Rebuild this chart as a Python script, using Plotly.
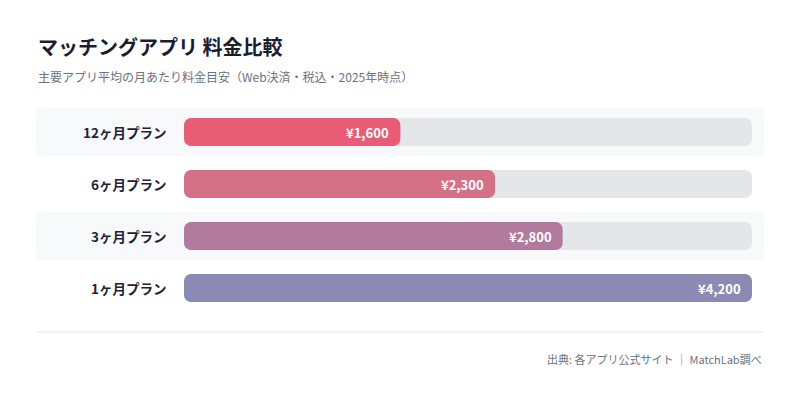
import plotly.graph_objects as go

plans = ["12ヶ月プラン", "6ヶ月プラン", "3ヶ月プラン", "1ヶ月プラン"]
prices = [1600, 2300, 2800, 4200]
colors = ["#e85d75", "#d57187", "#b27a9c", "#8b8ab3"]
price_labels = ["¥1,600", "¥2,300", "¥2,800", "¥4,200"]

title = "マッチングアプリ 料金比較"
subtitle = "主要アプリ平均の月あたり料金目安（Web決済・税込・2025年時点）"
footer = "出典: 各アプリ公式サイト ｜ MatchLab調べ"

FONT = "Noto Sans CJK JP"
W, H = 800, 401
ML, MR, MT, MB = 184, 48, 106, 87
plot_w = W - ML - MR
plot_h = H - MT - MB

xmax = max(prices)
ypos = list(range(len(plans)))

def px_to_paper_x(px):
    return (px - ML) / plot_w

def px_to_paper_y(px):
    return (H - MB - px) / plot_h

fig = go.Figure()

def add_round_bars(values, color):
    # two overlapping halves so both ends get rounded corners
    left_base = [v * 0.6 for v in values]
    right_base = [v * 0.4 for v in values]
    fig.add_trace(go.Bar(
        y=ypos, x=[-b for b in left_base], base=left_base, orientation="h",
        marker=dict(color=color, cornerradius=7, line=dict(width=0)),
        width=0.54, hoverinfo="skip", showlegend=False,
    ))
    fig.add_trace(go.Bar(
        y=ypos, x=[v - b for v, b in zip(values, right_base)], base=right_base,
        orientation="h",
        marker=dict(color=color, cornerradius=7, line=dict(width=0)),
        width=0.54, hoverinfo="skip", showlegend=False,
    ))

add_round_bars([xmax] * len(plans), "#e5e6ea")
add_round_bars(prices, colors)

shapes = []
x0 = px_to_paper_x(36)
x1 = px_to_paper_x(764)
rx = 8 / plot_w
ry = 8 / (plot_h / len(plans))
for i in ypos:
    if i % 2 == 0:
        ya = i - 0.4615
        yb = i + 0.4615
        path = (f"M {x0+rx},{ya} L {x1-rx},{ya} Q {x1},{ya} {x1},{ya+ry} "
                f"L {x1},{yb-ry} Q {x1},{yb} {x1-rx},{yb} L {x0+rx},{yb} "
                f"Q {x0},{yb} {x0},{yb-ry} L {x0},{ya+ry} Q {x0},{ya} {x0+rx},{ya} Z")
        shapes.append(dict(type="path", path=path, xref="paper", yref="y",
                           fillcolor="#f8f9fb", line=dict(width=0), layer="below"))
shapes.append(dict(type="line", xref="paper", yref="paper",
                   x0=x0, x1=x1, y0=px_to_paper_y(332), y1=px_to_paper_y(332),
                   line=dict(color="#e5e7eb", width=1)))

annotations = []
for i, (p, lab, v) in enumerate(zip(plans, price_labels, prices)):
    annotations.append(dict(x=0, y=i, xref="x", yref="y", text=f"<b>{p}</b>",
                            xanchor="right", yanchor="middle", xshift=-16,
                            showarrow=False,
                            font=dict(family=FONT, size=13.5, color="#1f2233")))
    annotations.append(dict(x=v, y=i, xref="x", yref="y", text=f"<b>{lab}</b>",
                            xanchor="right", yanchor="middle", xshift=-9,
                            showarrow=False,
                            font=dict(family=FONT, size=13, color="#ffffff")))
annotations.append(dict(x=x0, y=px_to_paper_y(47), xref="paper", yref="paper",
                        text=f"<b>{title}</b>", xanchor="left", yanchor="middle",
                        showarrow=False,
                        font=dict(family=FONT, size=20, color="#1a1d2e")))
annotations.append(dict(x=x0, y=px_to_paper_y(76), xref="paper", yref="paper",
                        text=subtitle, xanchor="left", yanchor="middle",
                        showarrow=False,
                        font=dict(family=FONT, size=12, color="#6b7280")))
annotations.append(dict(x=x1, y=px_to_paper_y(359), xref="paper", yref="paper",
                        text=footer, xanchor="right", yanchor="middle",
                        showarrow=False,
                        font=dict(family=FONT, size=11, color="#6b7280")))

fig.update_layout(
    width=W, height=H,
    margin=dict(l=ML, r=MR, t=MT, b=MB, pad=0),
    paper_bgcolor="#ffffff", plot_bgcolor="rgba(0,0,0,0)",
    barmode="overlay",
    xaxis=dict(range=[0, xmax], visible=False, fixedrange=True),
    yaxis=dict(range=[len(plans) - 0.5, -0.5], visible=False, fixedrange=True),
    shapes=shapes, annotations=annotations,
    font=dict(family=FONT),
    showlegend=False,
)

fig.write_html("out.html", config={"displayModeBar": False},
               post_script="document.body.style.margin='0';document.body.style.overflow='hidden';")
